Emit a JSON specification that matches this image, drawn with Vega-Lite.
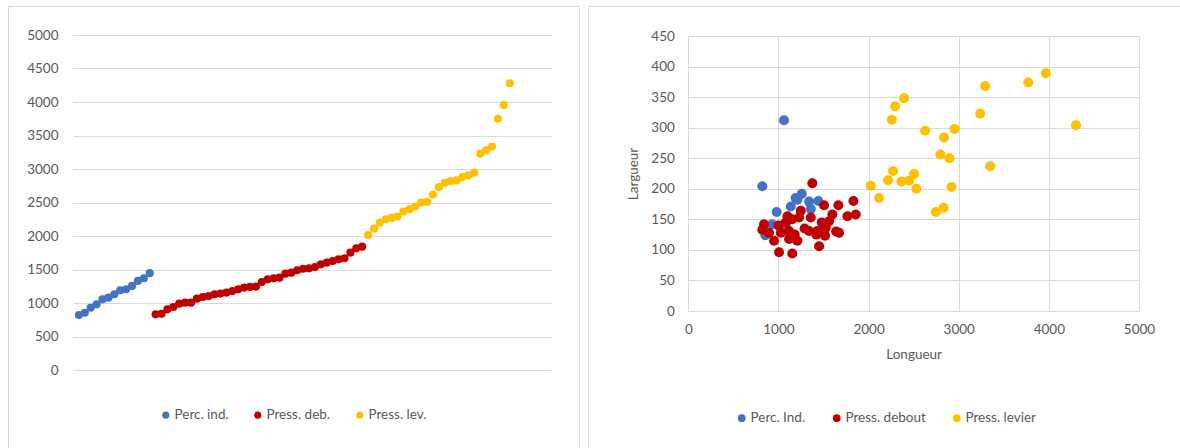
{
  "$schema": "https://vega.github.io/schema/vega-lite/v6.json",
  "padding": {"left": 7, "top": 5, "right": 0, "bottom": 0},
  "spacing": 7,
  "background": "white",
  "config": {
    "view": {"stroke": "#d9d9d9", "strokeWidth": 1},
    "font": "Lato",
    "axis": {"labelFont": "Lato", "labelFontSize": 13.5, "labelColor": "#595959", "titleFont": "Lato", "titleFontSize": 13.5, "titleColor": "#595959", "titleFontWeight": "normal", "gridColor": "#d9d9d9", "gridWidth": 1, "ticks": false, "domain": false, "format": "d", "labelFlush": false, "labelOverlap": false},
    "legend": {"labelFont": "Lato", "labelFontSize": 13.5, "labelColor": "#595959"}
  },
  "resolve": {"scale": {"color": "independent"}, "legend": {"color": "independent"}},
  "hconcat": [
    {
      "width": 571,
      "height": 442,
      "data": {"values": [
        {"i": 1, "v": 821, "c": "Perc. ind."}, {"i": 2, "v": 855, "c": "Perc. ind."}, {"i": 3, "v": 930, "c": "Perc. ind."}, {"i": 4, "v": 980, "c": "Perc. ind."}, {"i": 5, "v": 1055, "c": "Perc. ind."}, {"i": 6, "v": 1080, "c": "Perc. ind."}, {"i": 7, "v": 1130, "c": "Perc. ind."}, {"i": 8, "v": 1190, "c": "Perc. ind."}, {"i": 9, "v": 1205, "c": "Perc. ind."}, {"i": 10, "v": 1255, "c": "Perc. ind."}, {"i": 11, "v": 1330, "c": "Perc. ind."}, {"i": 12, "v": 1370, "c": "Perc. ind."}, {"i": 13, "v": 1445, "c": "Perc. ind."},
        {"i": 14, "v": 831, "c": "Press. deb."}, {"i": 15, "v": 840, "c": "Press. deb."}, {"i": 16, "v": 905, "c": "Press. deb."}, {"i": 17, "v": 940, "c": "Press. deb."}, {"i": 18, "v": 990, "c": "Press. deb."}, {"i": 19, "v": 1005, "c": "Press. deb."}, {"i": 20, "v": 1005, "c": "Press. deb."}, {"i": 21, "v": 1065, "c": "Press. deb."}, {"i": 22, "v": 1090, "c": "Press. deb."}, {"i": 23, "v": 1105, "c": "Press. deb."}, {"i": 24, "v": 1130, "c": "Press. deb."}, {"i": 25, "v": 1140, "c": "Press. deb."}, {"i": 26, "v": 1155, "c": "Press. deb."}, {"i": 27, "v": 1180, "c": "Press. deb."}, {"i": 28, "v": 1205, "c": "Press. deb."}, {"i": 29, "v": 1230, "c": "Press. deb."}, {"i": 30, "v": 1240, "c": "Press. deb."}, {"i": 31, "v": 1245, "c": "Press. deb."}, {"i": 32, "v": 1314, "c": "Press. deb."}, {"i": 33, "v": 1353, "c": "Press. deb."}, {"i": 34, "v": 1368, "c": "Press. deb."}, {"i": 35, "v": 1378, "c": "Press. deb."}, {"i": 36, "v": 1438, "c": "Press. deb."}, {"i": 37, "v": 1453, "c": "Press. deb."}, {"i": 38, "v": 1488, "c": "Press. deb."}, {"i": 39, "v": 1512, "c": "Press. deb."}, {"i": 40, "v": 1517, "c": "Press. deb."}, {"i": 41, "v": 1537, "c": "Press. deb."}, {"i": 42, "v": 1577, "c": "Press. deb."}, {"i": 43, "v": 1602, "c": "Press. deb."}, {"i": 44, "v": 1627, "c": "Press. deb."}, {"i": 45, "v": 1652, "c": "Press. deb."}, {"i": 46, "v": 1667, "c": "Press. deb."}, {"i": 47, "v": 1751, "c": "Press. deb."}, {"i": 48, "v": 1816, "c": "Press. deb."}, {"i": 49, "v": 1841, "c": "Press. deb."},
        {"i": 50, "v": 2015, "c": "Press. lev."}, {"i": 51, "v": 2110, "c": "Press. lev."}, {"i": 52, "v": 2200, "c": "Press. lev."}, {"i": 53, "v": 2250, "c": "Press. lev."}, {"i": 54, "v": 2270, "c": "Press. lev."}, {"i": 55, "v": 2290, "c": "Press. lev."}, {"i": 56, "v": 2365, "c": "Press. lev."}, {"i": 57, "v": 2400, "c": "Press. lev."}, {"i": 58, "v": 2440, "c": "Press. lev."}, {"i": 59, "v": 2500, "c": "Press. lev."}, {"i": 60, "v": 2510, "c": "Press. lev."}, {"i": 61, "v": 2620, "c": "Press. lev."}, {"i": 62, "v": 2730, "c": "Press. lev."}, {"i": 63, "v": 2795, "c": "Press. lev."}, {"i": 64, "v": 2820, "c": "Press. lev."}, {"i": 65, "v": 2830, "c": "Press. lev."}, {"i": 66, "v": 2880, "c": "Press. lev."}, {"i": 67, "v": 2905, "c": "Press. lev."}, {"i": 68, "v": 2945, "c": "Press. lev."}, {"i": 69, "v": 3230, "c": "Press. lev."}, {"i": 70, "v": 3280, "c": "Press. lev."}, {"i": 71, "v": 3335, "c": "Press. lev."}, {"i": 72, "v": 3750, "c": "Press. lev."}, {"i": 73, "v": 3955, "c": "Press. lev."}, {"i": 74, "v": 4280, "c": "Press. lev."}
      ]},
      "mark": {"type": "point", "filled": true, "opacity": 1, "size": 66},
      "encoding": {
        "x": {"field": "i", "type": "quantitative", "scale": {"domain": [0, 81], "range": [65, 543], "nice": false, "zero": false}, "axis": null},
        "y": {"field": "v", "type": "quantitative", "scale": {"domain": [0, 5000], "range": [364, 29], "nice": false},
              "axis": {"values": [0, 500, 1000, 1500, 2000, 2500, 3000, 3500, 4000, 4500, 5000], "offset": -65, "labelPadding": 15, "grid": true, "title": null}},
        "color": {"field": "c", "type": "nominal", "sort": null,
                  "scale": {"domain": ["Perc. ind.", "Press. deb.", "Press. lev."], "range": ["#4472C4", "#C00000", "#FFC000"]},
                  "legend": {"orient": "none", "legendX": 151, "legendY": 402, "direction": "horizontal", "title": null, "symbolType": "circle", "symbolSize": 50, "symbolStrokeWidth": 0, "labelOffset": 2, "columnPadding": 22}}
      }
    },
    {
      "width": 592,
      "height": 442,
      "data": {"values": [
        {"L": 821, "W": 204, "c": "Perc. Ind."}, {"L": 855, "W": 124, "c": "Perc. Ind."}, {"L": 930, "W": 142, "c": "Perc. Ind."}, {"L": 980, "W": 162, "c": "Perc. Ind."}, {"L": 1062, "W": 312, "c": "Perc. Ind."}, {"L": 1080, "W": 140, "c": "Perc. Ind."}, {"L": 1137, "W": 171, "c": "Perc. Ind."}, {"L": 1190, "W": 185, "c": "Perc. Ind."}, {"L": 1210, "W": 182, "c": "Perc. Ind."}, {"L": 1259, "W": 192, "c": "Perc. Ind."}, {"L": 1340, "W": 179, "c": "Perc. Ind."}, {"L": 1359, "W": 167, "c": "Perc. Ind."}, {"L": 1443, "W": 180, "c": "Perc. Ind."},
        {"L": 1376, "W": 209, "c": "Press. debout"}, {"L": 1506, "W": 173, "c": "Press. debout"}, {"L": 1665, "W": 173, "c": "Press. debout"}, {"L": 1832, "W": 180, "c": "Press. debout"}, {"L": 1858, "W": 158, "c": "Press. debout"}, {"L": 1765, "W": 155, "c": "Press. debout"}, {"L": 1598, "W": 158, "c": "Press. debout"}, {"L": 1562, "W": 147, "c": "Press. debout"}, {"L": 1673, "W": 128, "c": "Press. debout"}, {"L": 1517, "W": 123, "c": "Press. debout"}, {"L": 1451, "W": 106, "c": "Press. debout"}, {"L": 1432, "W": 131, "c": "Press. debout"}, {"L": 1340, "W": 131, "c": "Press. debout"}, {"L": 1359, "W": 153, "c": "Press. debout"}, {"L": 1229, "W": 153, "c": "Press. debout"}, {"L": 1248, "W": 164, "c": "Press. debout"}, {"L": 1154, "W": 150, "c": "Press. debout"}, {"L": 1081, "W": 145, "c": "Press. debout"}, {"L": 1210, "W": 115, "c": "Press. debout"}, {"L": 1118, "W": 118, "c": "Press. debout"}, {"L": 1007, "W": 96, "c": "Press. debout"}, {"L": 1154, "W": 94, "c": "Press. debout"}, {"L": 951, "W": 115, "c": "Press. debout"}, {"L": 896, "W": 128, "c": "Press. debout"}, {"L": 840, "W": 142, "c": "Press. debout"}, {"L": 821, "W": 133, "c": "Press. debout"}, {"L": 1026, "W": 128, "c": "Press. debout"}, {"L": 1118, "W": 131, "c": "Press. debout"}, {"L": 1525, "W": 136, "c": "Press. debout"}, {"L": 1000, "W": 140, "c": "Press. debout"}, {"L": 1100, "W": 155, "c": "Press. debout"}, {"L": 1180, "W": 125, "c": "Press. debout"}, {"L": 1290, "W": 135, "c": "Press. debout"}, {"L": 1420, "W": 125, "c": "Press. debout"}, {"L": 1480, "W": 145, "c": "Press. debout"}, {"L": 1640, "W": 130, "c": "Press. debout"},
        {"L": 3967, "W": 389, "c": "Press. levier"}, {"L": 3771, "W": 374, "c": "Press. levier"}, {"L": 3293, "W": 368, "c": "Press. levier"}, {"L": 2394, "W": 348, "c": "Press. levier"}, {"L": 2294, "W": 335, "c": "Press. levier"}, {"L": 2258, "W": 313, "c": "Press. levier"}, {"L": 3238, "W": 323, "c": "Press. levier"}, {"L": 4300, "W": 304, "c": "Press. levier"}, {"L": 2627, "W": 295, "c": "Press. levier"}, {"L": 2953, "W": 298, "c": "Press. levier"}, {"L": 2838, "W": 284, "c": "Press. levier"}, {"L": 2797, "W": 256, "c": "Press. levier"}, {"L": 2897, "W": 250, "c": "Press. levier"}, {"L": 3349, "W": 237, "c": "Press. levier"}, {"L": 2272, "W": 229, "c": "Press. levier"}, {"L": 2505, "W": 224, "c": "Press. levier"}, {"L": 2217, "W": 214, "c": "Press. levier"}, {"L": 2364, "W": 212, "c": "Press. levier"}, {"L": 2449, "W": 213, "c": "Press. levier"}, {"L": 2531, "W": 200, "c": "Press. levier"}, {"L": 2919, "W": 203, "c": "Press. levier"}, {"L": 2025, "W": 205, "c": "Press. levier"}, {"L": 2117, "W": 185, "c": "Press. levier"}, {"L": 2746, "W": 162, "c": "Press. levier"}, {"L": 2831, "W": 169, "c": "Press. levier"}
      ]},
      "resolve": {"axis": {"x": "independent"}},
      "layer": [
        {
          "mark": {"type": "point", "filled": true, "opacity": 0, "size": 1},
          "encoding": {
            "x": {"field": "L", "type": "quantitative", "scale": {"domain": [0, 5000], "range": [100.3, 551], "nice": false},
                  "axis": {"orient": "top", "values": [0, 1000, 2000, 3000, 4000, 5000], "grid": true, "labels": false, "title": null}},
            "y": {"field": "W", "type": "quantitative", "scale": {"domain": [0, 450], "range": [305, 30], "nice": false},
                  "axis": {"values": [0, 50, 100, 150, 200, 250, 300, 350, 400, 450], "offset": -100.3, "labelPadding": 14, "grid": true, "title": "Largueur", "titlePadding": 10}}
          }
        },
        {
          "mark": {"type": "point", "filled": true, "opacity": 1, "size": 100},
          "encoding": {
            "x": {"field": "L", "type": "quantitative",
                  "axis": {"orient": "bottom", "offset": -137, "values": [0, 1000, 2000, 3000, 4000, 5000], "grid": false, "labelPadding": 11, "title": "Longueur", "titlePadding": 12}},
            "y": {"field": "W", "type": "quantitative"},
            "color": {"field": "c", "type": "nominal", "sort": null,
                      "scale": {"domain": ["Perc. Ind.", "Press. debout", "Press. levier"], "range": ["#4472C4", "#C00000", "#FFC000"]},
                      "legend": {"orient": "none", "legendX": 147, "legendY": 405, "direction": "horizontal", "title": null, "symbolType": "circle", "symbolSize": 60, "symbolStrokeWidth": 0, "labelOffset": 2, "columnPadding": 24}}
          }
        }
      ]
    }
  ]
}
